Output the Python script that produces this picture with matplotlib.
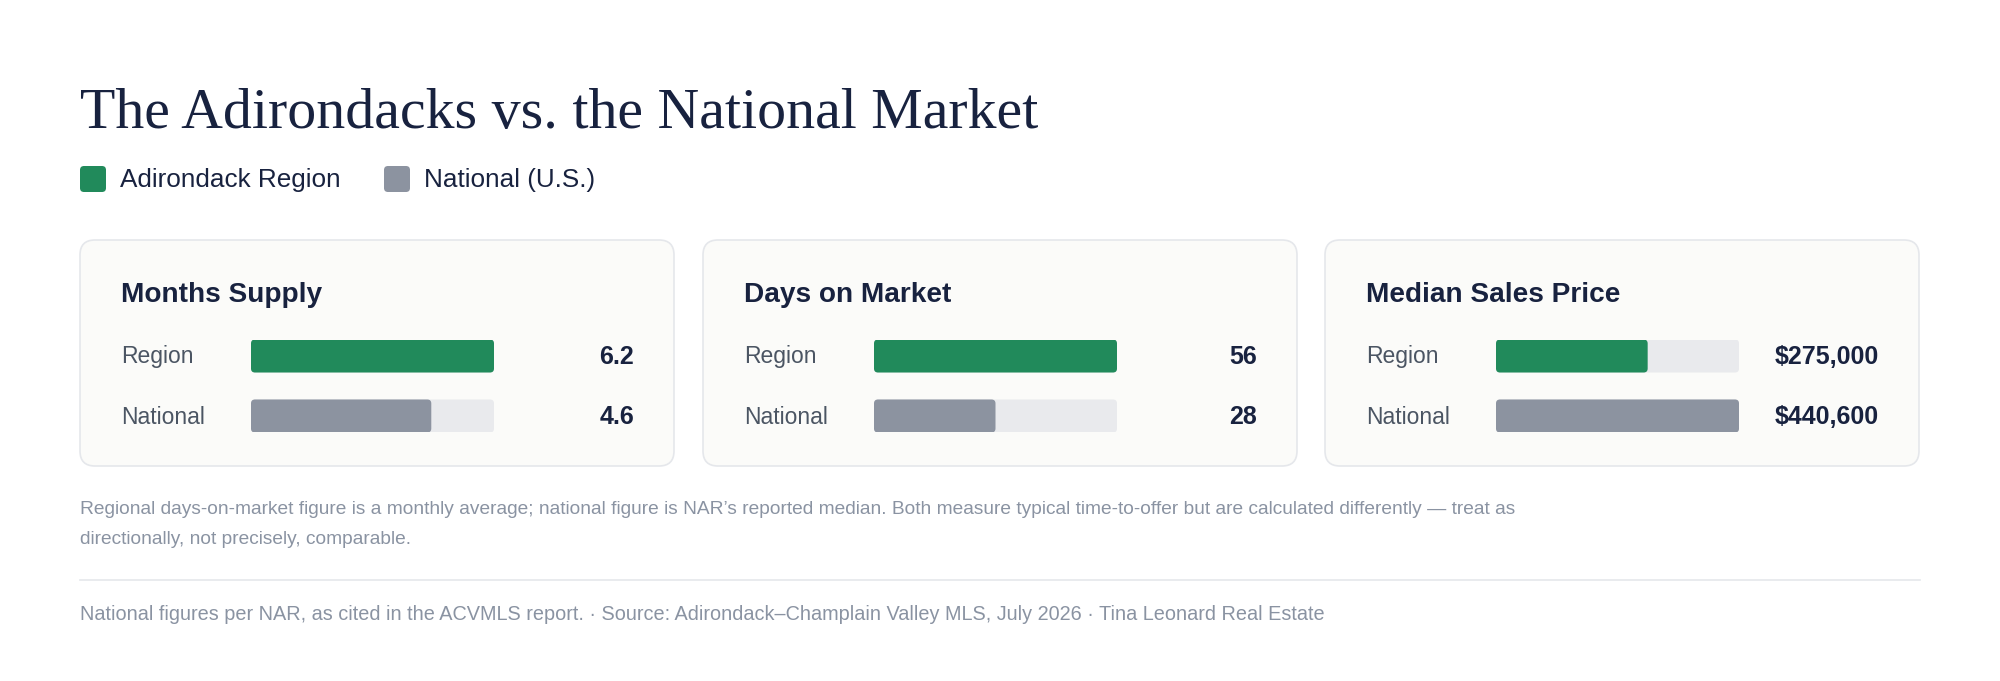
import matplotlib
matplotlib.use('Agg')
import matplotlib.pyplot as plt
from matplotlib.patches import FancyBboxPatch

# data
metrics = ['Months Supply', 'Days on Market', 'Median Sales Price']
row_labels = ['Region', 'National']
region_values = [6.2, 56, 275000]
national_values = [4.6, 28, 440600]
value_labels = [['6.2', '4.6'], ['56', '28'], ['$275,000', '$440,600']]
legend_labels = ['Adirondack Region', 'National (U.S.)']

title = 'The Adirondacks vs. the National Market'
note_lines = ['Regional days-on-market figure is a monthly average; national figure is NAR\u2019s reported median. '
              'Both measure typical time-to-offer but are calculated differently \u2014 treat as',
              'directionally, not precisely, comparable.']
source = ('National figures per NAR, as cited in the ACVMLS report. \u00b7 Source: Adirondack\u2013Champlain '
          'Valley MLS, July 2026 \u00b7 Tina Leonard Real Estate')

GREEN = '#218a5b'
GREY = '#8c93a0'
TRACK = '#e9eaed'
NAVY = '#18223f'
LABEL = '#4b5563'
MUTED = '#8a93a2'

W, H = 2000, 681
fig = plt.figure(figsize=(20, 6.81), dpi=100)
fig.patch.set_facecolor('white')
ax = fig.add_axes([0, 0, 1, 1])
ax.set_xlim(0, W)
ax.set_ylim(H, 0)
ax.axis('off')

sans = 'Liberation Sans'

ax.text(80, 128, title, fontsize=41.7, family='Liberation Serif', color=NAVY, va='baseline')

# legend
for lx, lab, col in [(80, legend_labels[0], GREEN), (384, legend_labels[1], GREY)]:
    ax.add_patch(FancyBboxPatch((lx, 166), 26, 26, boxstyle='round,pad=0,rounding_size=4',
                                fc=col, ec='none'))
    ax.text(lx + 40, 180, lab, fontsize=18.8, family=sans, color=NAVY, va='center')

card_x = [80, 703, 1325]
card_w = 594
card_top, card_bot = 240, 466
row_y = [357, 417]

for i, m in enumerate(metrics):
    cx = card_x[i]
    ax.add_patch(FancyBboxPatch((cx, card_top), card_w, card_bot - card_top,
                                boxstyle='round,pad=0,rounding_size=15',
                                fc='#fbfbf9', ec='#e5e7eb', lw=1.2))
    ax.text(cx + 41, 302, m, fontsize=20.2, family=sans, weight='bold', color=NAVY, va='baseline')
    for r in range(2):
        ax.text(cx + 41, row_y[r], row_labels[r], fontsize=16.5, family=sans, color=LABEL,
                va='center')
        ax.text(cx + 554, row_y[r], value_labels[i][r], fontsize=18, family=sans, weight='bold',
                color=NAVY, va='center', ha='right')

    # bars in their own axes, scaled to the larger value
    vals = [region_values[i], national_values[i]]
    vmax = max(vals)
    track_w = 243
    bax = fig.add_axes([(cx + 171) / W, 1 - 432 / H, track_w / W, 92 / H])
    bax.set_xlim(0, vmax)
    bax.set_ylim(1.267, -0.267)
    bax.axis('off')
    xu = vmax / track_w
    yu = 1 / 60
    rs = 4 * xu
    asp = yu / xu
    tracks = bax.barh([0, 1], [vmax, vmax], height=0.55)
    bars = bax.barh([0, 1], vals, height=0.55)
    for b in list(tracks) + list(bars):
        b.set_visible(False)
    for b in tracks:
        bax.add_patch(FancyBboxPatch((b.get_x(), b.get_y()), b.get_width(), b.get_height(),
                                     boxstyle=f'round,pad=0,rounding_size={rs}',
                                     mutation_aspect=asp, fc=TRACK, ec='none'))
    for b, col in zip(bars, [GREEN, GREY]):
        bax.add_patch(FancyBboxPatch((b.get_x(), b.get_y()), b.get_width(), b.get_height(),
                                     boxstyle=f'round,pad=0,rounding_size={rs}',
                                     mutation_aspect=asp, fc=col, ec='none'))

for k, line in enumerate(note_lines):
    ax.text(80, 514 + 30 * k, line, fontsize=13.75, family=sans, color=MUTED, va='baseline')
ax.plot([80, 1920], [580, 580], color='#e5e7eb', lw=1.2)
ax.text(80, 620, source, fontsize=14.35, family=sans, color=MUTED, va='baseline')

fig.savefig('out.png', dpi=100, facecolor='white')
